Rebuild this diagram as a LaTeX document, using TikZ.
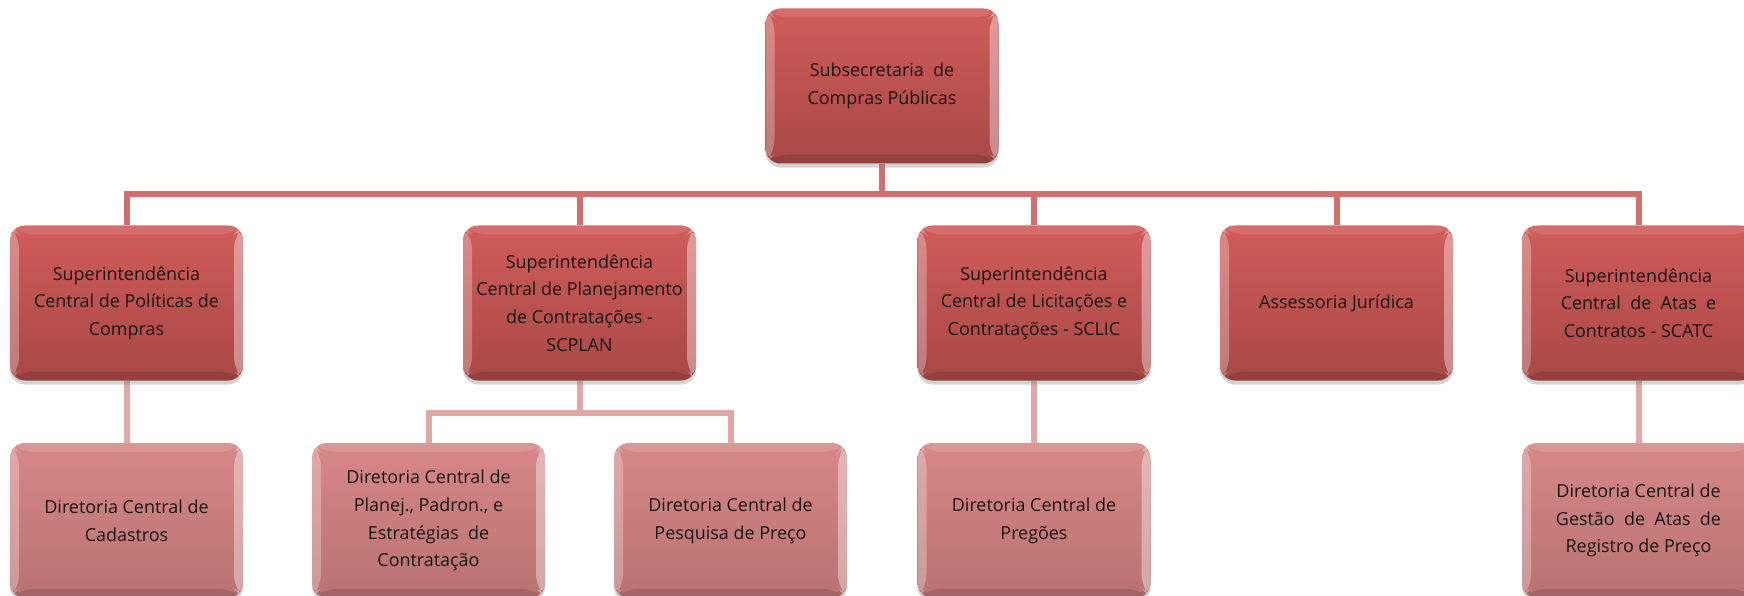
\documentclass[tikz,border=0pt]{standalone}
\usepackage{fontspec}
\setmainfont{Open Sans}
\usetikzlibrary{shadows,backgrounds}
\definecolor{lineA}{RGB}{208,112,110}
\definecolor{lineB}{RGB}{226,166,166}
\definecolor{redTop}{RGB}{208,92,89}
\definecolor{redBot}{RGB}{168,72,70}
\definecolor{pinkTop}{RGB}{214,136,135}
\definecolor{pinkBot}{RGB}{184,114,113}
\definecolor{txt}{RGB}{25,20,20}
\tikzset{
  bevel/.style={path picture={
    \fill[white,opacity=0.28] (path picture bounding box.north west) -- ([xshift=9bp,yshift=-9bp]path picture bounding box.north west) -- ([xshift=9bp,yshift=9bp]path picture bounding box.south west) -- (path picture bounding box.south west) -- cycle;
    \fill[white,opacity=0.38] (path picture bounding box.north east) -- ([xshift=-9bp,yshift=-9bp]path picture bounding box.north east) -- ([xshift=-9bp,yshift=9bp]path picture bounding box.south east) -- (path picture bounding box.south east) -- cycle;
    \fill[white,opacity=0.12] (path picture bounding box.north west) -- ([xshift=9bp,yshift=-9bp]path picture bounding box.north west) -- ([xshift=-9bp,yshift=-9bp]path picture bounding box.north east) -- (path picture bounding box.north east) -- cycle;
    \fill[black,opacity=0.12] (path picture bounding box.south west) -- ([xshift=9bp,yshift=9bp]path picture bounding box.south west) -- ([xshift=-9bp,yshift=9bp]path picture bounding box.south east) -- (path picture bounding box.south east) -- cycle;
  }},
  box/.style={rounded corners=15bp, minimum width=233bp, minimum height=155bp, inner sep=0pt,
    align=center, text=txt, font=\fontsize{18}{27.8}\selectfont, bevel,
    drop shadow={opacity=0.35, shadow xshift=0bp, shadow yshift=-4bp}},
  lvlA/.style={box, top color=redTop, bottom color=redBot},
  lvlB/.style={box, top color=pinkTop, bottom color=pinkBot},
  conA/.style={draw=lineA, line width=6bp},
  conB/.style={draw=lineB, line width=6bp},
}
\begin{document}
\begin{tikzpicture}[x=1bp,y=-1bp]
\useasboundingbox (0,0) rectangle (1744,596);
\clip (0,0) rectangle (1744,596);
\node[lvlA] (top) at (882,86) {Subsecretaria\ \ de\\Compras Públicas};
\node[lvlA] (s1) at (126.5,303) {Superintendência\\Central de Políticas de\\Compras};
\node[lvlA] (s2) at (579.5,303) {Superintendência\\Central de Planejamento\\de Contratações -\\SCPLAN};
\node[lvlA] (s3) at (1034,303) {Superintendência\\Central de Licitações e\\Contratações - SCLIC};
\node[lvlA] (s4) at (1336.5,303) {Assessoria Jurídica};
\node[lvlA] (s5) at (1638.5,303) {Superintendência\\Central\ \ de\ \ Atas\ \ e\\Contratos - SCATC};
\node[lvlB] (d1) at (126.5,520.5) {Diretoria Central de\\Cadastros};
\node[lvlB] (d2) at (428.5,520.5) {Diretoria Central de\\Planej., Padron., e\\Estratégias\ \ de\\Contratação};
\node[lvlB] (d3) at (730.5,520.5) {Diretoria Central de\\Pesquisa de Preço};
\node[lvlB] (d4) at (1034,520.5) {Diretoria Central de\\Pregões};
\node[lvlB] (d5) at (1638.5,520.5) {Diretoria Central de\\Gestão\ \ de\ \ Atas\ \ de\\Registro de Preço};
\begin{scope}[on background layer]
\foreach \c in {s1,s2,s3,s4,s5}{
  \draw[conA] (top.south) -- ++(0,30) -| (\c.north);
}
\draw[conB] (s1.south) -- (d1.north);
\draw[conB] (s2.south) -- ++(0,32) -| (d2.north);
\draw[conB] (s2.south) -- ++(0,32) -| (d3.north);
\draw[conB] (s3.south) -- (d4.north);
\draw[conB] (s5.south) -- (d5.north);
\end{scope}
\end{tikzpicture}
\end{document}
